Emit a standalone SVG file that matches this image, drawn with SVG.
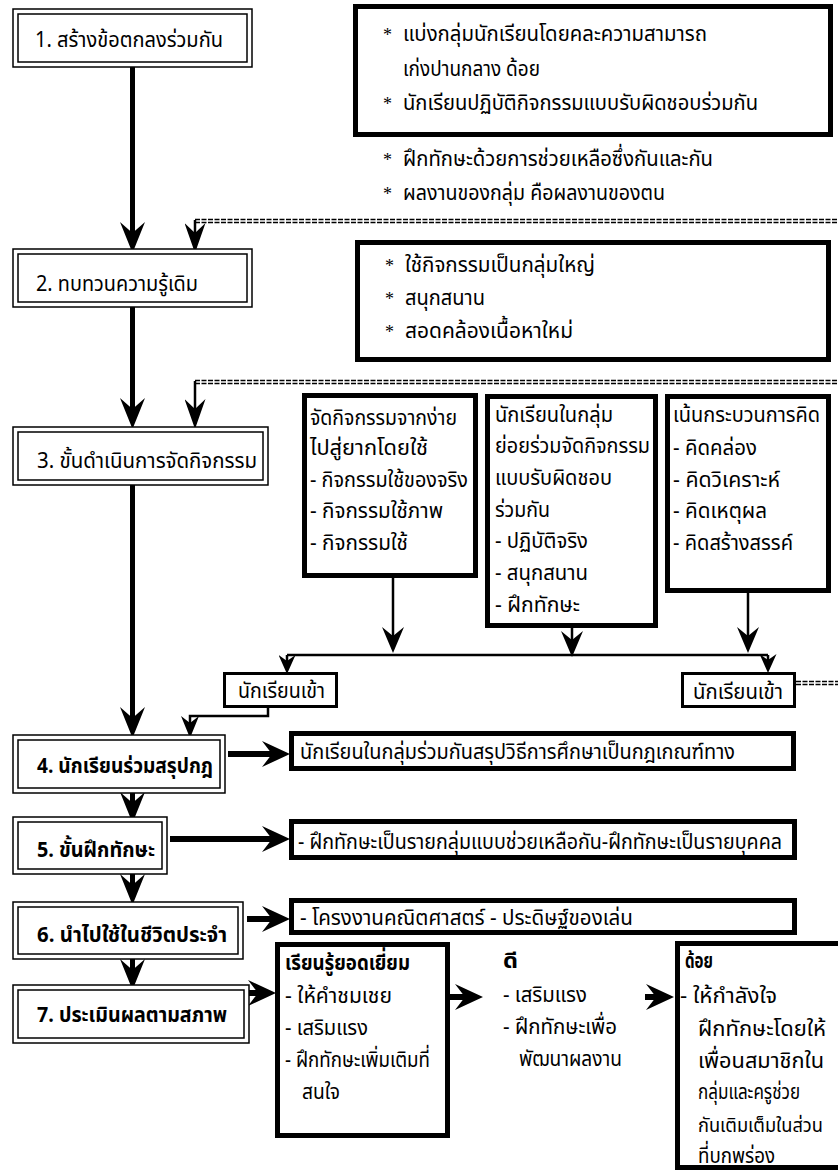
<svg xmlns="http://www.w3.org/2000/svg" width="838" height="1172" viewBox="0 0 838 1172">
<style>
.t{font-family:'Noto Sans Thai','Noto Serif Thai','Liberation Serif',serif;font-size:22px;fill:#000}
.b{font-weight:bold}
.sm{font-size:20px}
.star{font-family:'Liberation Serif',serif;font-size:18px;fill:#000}
.o{fill:#fff;stroke:#000;stroke-width:1.5}
.i{fill:none;stroke:#000;stroke-width:1.5}
.k{fill:#fff;stroke:#000;stroke-width:5}
.s{fill:#fff;stroke:#000;stroke-width:3}
.main{stroke:#000;stroke-width:5;fill:none}
.thin{stroke:#000;stroke-width:2.5;fill:none}
.h{stroke:#000;stroke-width:6;fill:none}
.dash{stroke:#000;stroke-width:1.6;stroke-dasharray:5 1.5;fill:none}
</style>
<defs>
<marker id="aBig" markerUnits="userSpaceOnUse" markerWidth="31" markerHeight="25" viewBox="0 0 31 25" refX="11" refY="12.5" orient="auto"><path d="M0,0 L31,12.5 L0,25 L11,12.5 Z" fill="#000"/></marker>
<marker id="aThin" markerUnits="userSpaceOnUse" markerWidth="30" markerHeight="21" viewBox="0 0 30 21" refX="10" refY="10.5" orient="auto"><path d="M0,0 L30,10.5 L0,21 L10,10.5 Z" fill="#000"/></marker>
<marker id="aCol" markerUnits="userSpaceOnUse" markerWidth="26" markerHeight="22" viewBox="0 0 26 22" refX="9" refY="11" orient="auto"><path d="M0,0 L26,11 L0,22 L9,11 Z" fill="#000"/></marker>
<marker id="aSmall" markerUnits="userSpaceOnUse" markerWidth="19" markerHeight="17" viewBox="0 0 19 17" refX="6" refY="8.5" orient="auto"><path d="M0,0 L19,8.5 L0,17 L6,8.5 Z" fill="#000"/></marker>
<marker id="aConn" markerUnits="userSpaceOnUse" markerWidth="22" markerHeight="18" viewBox="0 0 22 18" refX="7" refY="9" orient="auto"><path d="M0,0 L22,9 L0,18 L7,9 Z" fill="#000"/></marker>
<marker id="aH" markerUnits="userSpaceOnUse" markerWidth="28" markerHeight="26" viewBox="0 0 28 26" refX="10" refY="13" orient="auto"><path d="M0,0 L28,13 L0,26 L10,13 Z" fill="#000"/></marker>
</defs>

<g id="connectors">
<path class="main" d="M132.5,67 V233" marker-end="url(#aBig)"/>
<path class="main" d="M132.5,307 V409" marker-end="url(#aBig)"/>
<path class="main" d="M132.5,485 V718" marker-end="url(#aBig)"/>
<path class="main" d="M132.5,793 V803" marker-end="url(#aBig)"/>
<path class="main" d="M132.5,874 V885" marker-end="url(#aBig)"/>
<path class="main" d="M132.5,959 V970" marker-end="url(#aBig)"/>
<path class="dash" d="M195,219.5 H838 M195,222.5 H838"/>
<path class="thin" d="M195,220 V233" marker-end="url(#aThin)"/>
<path class="dash" d="M195,380.5 H838 M195,383.5 H838"/>
<path class="thin" d="M195,381 V409" marker-end="url(#aThin)"/>
<path class="dash" d="M796,681.5 H838 M796,684.5 H838"/>
<path class="thin" d="M393,578 V636" marker-end="url(#aCol)"/>
<path class="thin" d="M572,628 V640" marker-end="url(#aCol)"/>
<path class="thin" d="M748,593 V636" marker-end="url(#aCol)"/>
<path class="thin" stroke-width="3" d="M287,655 H768"/>
<path class="thin" d="M287,655 V661" marker-end="url(#aSmall)"/>
<path class="thin" d="M768,655 V660" marker-end="url(#aSmall)"/>
<path class="thin" d="M268,708 V716 H190 V723" marker-end="url(#aConn)"/>
<path class="h" d="M228,754 H272" marker-end="url(#aH)"/>
<path class="h" d="M170,839 H272" marker-end="url(#aH)"/>
<path class="h" d="M247,919 H272" marker-end="url(#aH)"/>
<path class="h" d="M249,993 H258" marker-end="url(#aH)"/>
<path class="h" d="M450,997 H465" marker-end="url(#aH)"/>
<path class="h" d="M645,997 H656" marker-end="url(#aH)"/>
</g>

<g id="n1">
<rect class="o" x="13" y="9" width="239" height="58"/>
<rect class="i" x="18" y="14" width="229" height="48"/>
<text class="t" x="35" y="47" textLength="188" lengthAdjust="spacingAndGlyphs">1. สร้างข้อตกลงร่วมกัน</text>
</g>

<g id="note1">
<rect class="k" x="355.5" y="6.5" width="475" height="128"/>
<text class="star" x="383" y="41">*</text>
<text class="t" x="403" y="41" textLength="304" lengthAdjust="spacingAndGlyphs">แบ่งกลุ่มนักเรียนโดยคละความสามารถ</text>
<text class="t" x="403" y="76" textLength="137" lengthAdjust="spacingAndGlyphs">เก่งปานกลาง ด้อย</text>
<text class="star" x="383" y="110">*</text>
<text class="t" x="403" y="110" textLength="355" lengthAdjust="spacingAndGlyphs">นักเรียนปฏิบัติกิจกรรมแบบรับผิดชอบร่วมกัน</text>
<text class="star" x="383" y="166">*</text>
<text class="t" x="403" y="166" textLength="310" lengthAdjust="spacingAndGlyphs">ฝึกทักษะด้วยการช่วยเหลือซึ่งกันและกัน</text>
<text class="star" x="383" y="200">*</text>
<text class="t" x="403" y="200" textLength="262" lengthAdjust="spacingAndGlyphs">ผลงานของกลุ่ม คือผลงานของตน</text>
</g>

<g id="n2">
<rect class="o" x="13" y="249" width="239" height="58"/>
<rect class="i" x="18" y="254" width="229" height="48"/>
<text class="t" x="36" y="291" textLength="162" lengthAdjust="spacingAndGlyphs">2. ทบทวนความรู้เดิม</text>
</g>

<g id="note2">
<rect class="k" x="357.5" y="242.5" width="471" height="117"/>
<text class="star" x="385" y="272">*</text>
<text class="t" x="405" y="272" textLength="190" lengthAdjust="spacingAndGlyphs">ใช้กิจกรรมเป็นกลุ่มใหญ่</text>
<text class="star" x="385" y="305">*</text>
<text class="t" x="405" y="305" textLength="80" lengthAdjust="spacingAndGlyphs">สนุกสนาน</text>
<text class="star" x="385" y="338">*</text>
<text class="t" x="405" y="338" textLength="168" lengthAdjust="spacingAndGlyphs">สอดคล้องเนื้อหาใหม่</text>
</g>

<g id="n3">
<rect class="o" x="13" y="427" width="255" height="58"/>
<rect class="i" x="18" y="432" width="245" height="48"/>
<text class="t" x="37" y="468" textLength="220" lengthAdjust="spacingAndGlyphs">3. ขั้นดำเนินการจัดกิจกรรม</text>
</g>

<g id="colA">
<rect class="k" x="304.5" y="395.5" width="171" height="180"/>
<text class="t" x="310" y="425" textLength="147" lengthAdjust="spacingAndGlyphs">จัดกิจกรรมจากง่าย</text>
<text class="t" x="310" y="455" textLength="118" lengthAdjust="spacingAndGlyphs">ไปสู่ยากโดยใช้</text>
<text class="t" x="310" y="487" textLength="158" lengthAdjust="spacingAndGlyphs">- กิจกรรมใช้ของจริง</text>
<text class="t" x="310" y="518" textLength="133" lengthAdjust="spacingAndGlyphs">- กิจกรรมใช้ภาพ</text>
<text class="t" x="310" y="550" textLength="98" lengthAdjust="spacingAndGlyphs">- กิจกรรมใช้</text>
</g>

<g id="colB">
<rect class="k" x="487.5" y="396.5" width="168" height="229"/>
<text class="t" x="495" y="422" textLength="118" lengthAdjust="spacingAndGlyphs">นักเรียนในกลุ่ม</text>
<text class="t" x="495" y="453" textLength="155" lengthAdjust="spacingAndGlyphs">ย่อยร่วมจัดกิจกรรม</text>
<text class="t" x="495" y="485" textLength="117" lengthAdjust="spacingAndGlyphs">แบบรับผิดชอบ</text>
<text class="t" x="495" y="517" textLength="55" lengthAdjust="spacingAndGlyphs">ร่วมกัน</text>
<text class="t" x="495" y="548" textLength="93" lengthAdjust="spacingAndGlyphs">- ปฏิบัติจริง</text>
<text class="t" x="495" y="580" textLength="93" lengthAdjust="spacingAndGlyphs">- สนุกสนาน</text>
<text class="t" x="495" y="612" textLength="85" lengthAdjust="spacingAndGlyphs">- ฝึกทักษะ</text>
</g>

<g id="colC">
<rect class="k" x="667.5" y="396.5" width="161" height="194"/>
<text class="t" x="673" y="422" textLength="147" lengthAdjust="spacingAndGlyphs">เน้นกระบวนการคิด</text>
<text class="t" x="673" y="455" textLength="84" lengthAdjust="spacingAndGlyphs">- คิดคล่อง</text>
<text class="t" x="673" y="487" textLength="107" lengthAdjust="spacingAndGlyphs">- คิดวิเคราะห์</text>
<text class="t" x="673" y="518" textLength="94" lengthAdjust="spacingAndGlyphs">- คิดเหตุผล</text>
<text class="t" x="673" y="550" textLength="120" lengthAdjust="spacingAndGlyphs">- คิดสร้างสรรค์</text>
</g>

<g id="enterL">
<rect class="s" x="224.5" y="673.5" width="112" height="33"/>
<text class="t" x="238" y="698" textLength="87" lengthAdjust="spacingAndGlyphs">นักเรียนเข้า</text>
</g>

<g id="enterR">
<rect class="s" x="682.5" y="673.5" width="112" height="33"/>
<text class="t" x="693" y="699" textLength="90" lengthAdjust="spacingAndGlyphs">นักเรียนเข้า</text>
</g>

<g id="n4">
<rect class="o" x="13" y="735" width="212" height="58"/>
<rect class="i" x="18" y="740" width="202" height="48"/>
<text class="t b" x="37" y="773" textLength="176" lengthAdjust="spacingAndGlyphs">4. นักเรียนร่วมสรุปกฎ</text>
</g>

<g id="note4">
<rect class="k" x="291.5" y="733.5" width="502" height="35"/>
<text class="t" x="300" y="759" textLength="435" lengthAdjust="spacingAndGlyphs">นักเรียนในกลุ่มร่วมกันสรุปวิธีการศึกษาเป็นกฎเกณฑ์ทาง</text>
</g>

<g id="n5">
<rect class="o" x="13" y="817" width="154" height="57"/>
<rect class="i" x="18" y="822" width="144" height="47"/>
<text class="t b" x="37" y="857" textLength="118" lengthAdjust="spacingAndGlyphs">5. ขั้นฝึกทักษะ</text>
</g>

<g id="note5">
<rect class="k" x="291.5" y="821.5" width="503" height="36"/>
<text class="t" x="298" y="849" textLength="484" lengthAdjust="spacingAndGlyphs">- ฝึกทักษะเป็นรายกลุ่มแบบช่วยเหลือกัน-ฝึกทักษะเป็นรายบุคคล</text>
</g>

<g id="n6">
<rect class="o" x="13" y="902" width="230" height="57"/>
<rect class="i" x="18" y="907" width="220" height="47"/>
<text class="t b" x="37" y="942" textLength="190" lengthAdjust="spacingAndGlyphs">6. นำไปใช้ในชีวิตประจำ</text>
</g>

<g id="note6">
<rect class="k" x="291.5" y="900.5" width="503" height="32"/>
<text class="t" x="300" y="925" textLength="333" lengthAdjust="spacingAndGlyphs">- โครงงานคณิตศาสตร์ - ประดิษฐ์ของเล่น</text>
</g>

<g id="n7">
<rect class="o" x="13" y="985" width="236" height="58"/>
<rect class="i" x="18" y="990" width="226" height="48"/>
<text class="t b" x="37" y="1022" textLength="190" lengthAdjust="spacingAndGlyphs">7. ประเมินผลตามสภาพ</text>
</g>

<g id="excellent">
<rect class="k" x="277.5" y="944.5" width="170" height="191"/>
<text class="t b" x="285" y="970" textLength="125" lengthAdjust="spacingAndGlyphs">เรียนรู้ยอดเยี่ยม</text>
<text class="t" x="285" y="1003" textLength="107" lengthAdjust="spacingAndGlyphs">- ให้คำชมเชย</text>
<text class="t" x="285" y="1035" textLength="83" lengthAdjust="spacingAndGlyphs">- เสริมแรง</text>
<text class="t" x="285" y="1067" textLength="145" lengthAdjust="spacingAndGlyphs">- ฝึกทักษะเพิ่มเติมที่</text>
<text class="t" x="302" y="1099" textLength="38" lengthAdjust="spacingAndGlyphs">สนใจ</text>
</g>

<g id="good">
<text class="t b" x="503" y="968" textLength="15" lengthAdjust="spacingAndGlyphs">ดี</text>
<text class="t" x="503" y="1002" textLength="84" lengthAdjust="spacingAndGlyphs">- เสริมแรง</text>
<text class="t" x="503" y="1034" textLength="114" lengthAdjust="spacingAndGlyphs">- ฝึกทักษะเพื่อ</text>
<text class="t" x="519" y="1066" textLength="103" lengthAdjust="spacingAndGlyphs">พัฒนาผลงาน</text>
</g>

<g id="poor">
<rect class="k" x="677.5" y="943.5" width="165" height="224"/>
<text class="t b" x="685" y="968" textLength="28" lengthAdjust="spacingAndGlyphs">ด้อย</text>
<text class="t" x="680" y="1003" textLength="97" lengthAdjust="spacingAndGlyphs">- ให้กำลังใจ</text>
<text class="t" x="698" y="1036" textLength="128" lengthAdjust="spacingAndGlyphs">ฝึกทักษะโดยให้</text>
<text class="t" x="698" y="1068" textLength="126" lengthAdjust="spacingAndGlyphs">เพื่อนสมาชิกใน</text>
<text class="t" x="698" y="1099" textLength="102" lengthAdjust="spacingAndGlyphs">กลุ่มและครูช่วย</text>
<text class="t sm" x="698" y="1132" textLength="125" lengthAdjust="spacingAndGlyphs">กันเติมเต็มในส่วน</text>
<text class="t" x="698" y="1163" textLength="77" lengthAdjust="spacingAndGlyphs">ที่บกพร่อง</text>
</g>
</svg>
